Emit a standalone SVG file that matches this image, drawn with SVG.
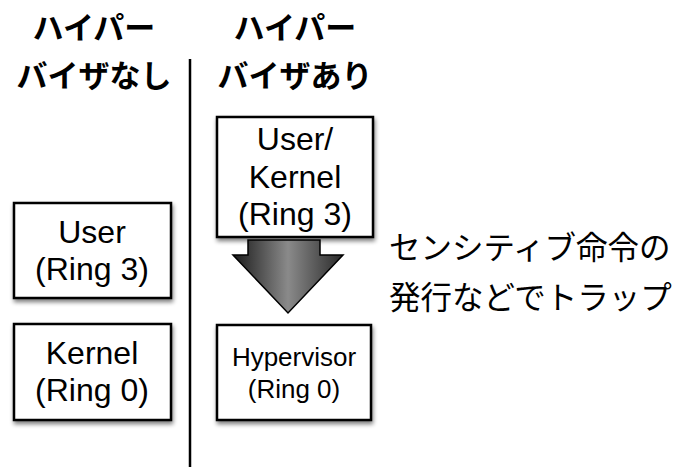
<svg xmlns="http://www.w3.org/2000/svg" width="677" height="467" viewBox="0 0 677 467">
<style>
.box{fill:#fff;stroke:#000;stroke-width:2.5;filter:url(#sh)}
.hd{font-family:"Noto Sans CJK JP","Noto Sans",sans-serif;font-weight:bold;font-size:31px;fill:#000;text-anchor:middle}
.bt{font-family:"Liberation Sans",Arial,sans-serif;font-size:32px;fill:#000;text-anchor:middle}
.st{font-family:"Liberation Sans",Arial,sans-serif;font-size:26px;fill:#000;text-anchor:middle}
.note{font-family:"Noto Sans CJK JP",sans-serif;font-size:31.5px;fill:#000}
</style>
<defs>
<filter id="sh" x="-10%" y="-10%" width="130%" height="130%">
<feGaussianBlur in="SourceAlpha" stdDeviation="2"/>
<feOffset dx="1" dy="3"/>
<feComponentTransfer><feFuncA type="linear" slope="0.5"/></feComponentTransfer>
<feMerge><feMergeNode/><feMergeNode in="SourceGraphic"/></feMerge>
</filter>
<linearGradient id="ag" x1="0" y1="0" x2="1" y2="0">
<stop offset="0" stop-color="#1a1a1a"/>
<stop offset="0.5" stop-color="#8a8a8a"/>
<stop offset="1" stop-color="#2a2a2a"/>
</linearGradient>
</defs>
<rect width="677" height="467" fill="#fff"/>
<g id="headers">
<text class="hd" x="94" y="39">ハイパー</text>
<text class="hd" x="94" y="87">バイザなし</text>
<text class="hd" x="295" y="39">ハイパー</text>
<text class="hd" x="295" y="87">バイザあり</text>
</g>
<line x1="190" y1="59" x2="190" y2="467" stroke="#000" stroke-width="2.5"/>
<g id="user">
<rect class="box" x="14" y="203" width="157" height="95"/>
<text class="bt" x="92" y="243">User</text>
<text class="bt" x="92" y="280">(Ring 3)</text>
</g>
<g id="kernel">
<rect class="box" x="14" y="324" width="157" height="96"/>
<text class="bt" x="92" y="364">Kernel</text>
<text class="bt" x="92" y="401">(Ring 0)</text>
</g>
<g id="userkernel">
<rect class="box" x="217" y="117" width="156" height="120"/>
<text class="bt" x="295" y="150">User/</text>
<text class="bt" x="295" y="188">Kernel</text>
<text class="bt" x="295" y="225">(Ring 3)</text>
</g>
<g id="connectors">
<path d="M248,240 H320 V255 H343 L288,313 L233,255 H248 Z" fill="url(#ag)" stroke="#000" stroke-width="1.5" stroke-linejoin="miter"/>
</g>
<g id="hypervisor">
<rect class="box" x="217" y="325" width="154" height="95"/>
<text class="st" x="294" y="366">Hypervisor</text>
<text class="st" x="294" y="398">(Ring 0)</text>
</g>
<g id="note">
<text class="note" x="389" y="259">センシティブ命令の</text>
<text class="note" x="389" y="309">発行などでトラップ</text>
</g>
</svg>
